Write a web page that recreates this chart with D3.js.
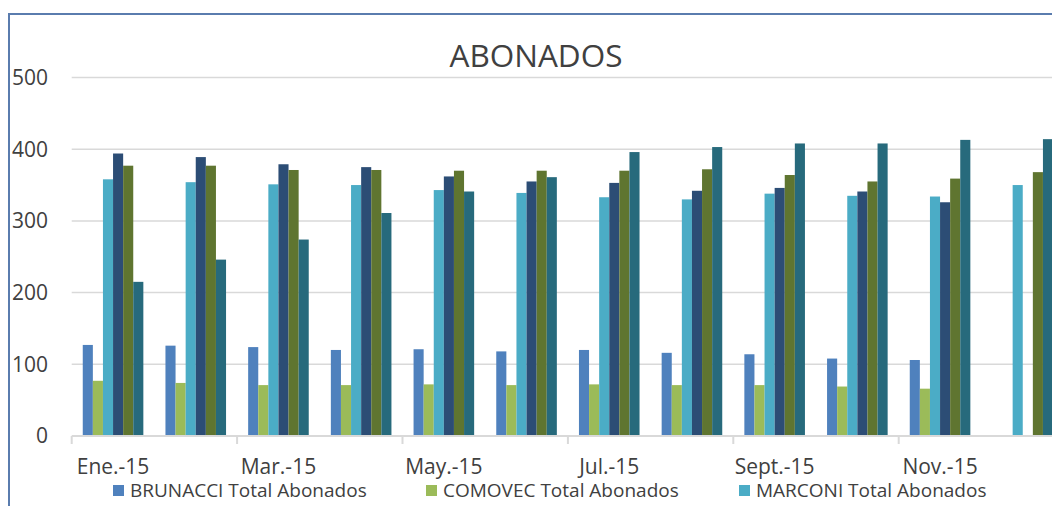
<!DOCTYPE html>
<html>
<head>
<meta charset="utf-8">
<script src="https://cdn.jsdelivr.net/npm/d3@7"></script>
<style>
  html, body { margin: 0; padding: 0; background: #fff; }
  svg { display: block; font-family: "Open Sans", sans-serif; }
</style>
</head>
<body>
<svg id="chart" width="1052" height="506"></svg>
<script>
// months on the category axis
const months = ['Ene.-15', 'Feb.-15', 'Mar.-15', 'Abr.-15', 'May.-15', 'Jun.-15',
                'Jul.-15', 'Ago.-15', 'Sept.-15', 'Oct.-15', 'Nov.-15', 'Dic.-15'];

// series, in drawing order (null = no bar)
const brunacci  = [127, 126, 124, 120, 121, 118, 120, 116, 114, 108, 106, null];
const comovec   = [77, 74, 71, 71, 72, 71, 72, 71, 71, 69, 66, null];
const marconi   = [358, 354, 351, 350, 343, 339, 333, 330, 338, 335, 334, 350];
const brunacci2 = [394, 389, 379, 375, 362, 355, 353, 342, 346, 341, 326, null];
const comovec2  = [377, 377, 371, 371, 370, 370, 370, 372, 364, 355, 359, 368];
const marconi2  = [215, 246, 274, 311, 341, 361, 396, 403, 408, 408, 413, 414];

const seriesNames = ['BRUNACCI Total Abonados', 'COMOVEC Total Abonados', 'MARCONI Total Abonados',
                     'BRUNACCI Total Abonados 2', 'COMOVEC Total Abonados 2', 'MARCONI Total Abonados 2'];
const seriesValues = [brunacci, comovec, marconi, brunacci2, comovec2, marconi2];
const colors = ['#4f81bd', '#9bbb59', '#4bacc6', '#2c4d75', '#5f7530', '#276a7c'];

const yTicks = [0, 100, 200, 300, 400, 500];

const svg = d3.select('#chart');

// outer chart frame (only its top and left edges fall inside the picture)
svg.append('rect')
    .attr('x', 9).attr('y', 14)
    .attr('width', 1200).attr('height', 600)
    .attr('fill', 'none')
    .attr('stroke', '#5a7cae')
    .attr('stroke-width', 2);

const plotLeft = 71.7, catWidth = 82.7;

const x0 = d3.scaleBand()
    .domain(months)
    .range([plotLeft, plotLeft + catWidth * months.length]);

const x1 = d3.scaleBand()
    .domain(d3.range(seriesNames.length))
    .range([0, x0.bandwidth()])
    .paddingOuter(1.095);

const y = d3.scaleLinear()
    .domain([0, 500])
    .range([436, 77.5]);

// gridlines
svg.append('g')
    .selectAll('line')
    .data(yTicks.slice(1))
    .join('line')
    .attr('x1', plotLeft).attr('x2', 1052)
    .attr('y1', d => y(d)).attr('y2', d => y(d))
    .attr('stroke', '#d9d9d9')
    .attr('stroke-width', 1.5);

// y axis labels
svg.append('g')
    .selectAll('text')
    .data(yTicks)
    .join('text')
    .attr('x', 48)
    .attr('y', d => y(d))
    .attr('dy', '0.35em')
    .attr('text-anchor', 'end')
    .attr('fill', '#404040')
    .style('font-size', '21px')
    .text(d => d);

// bars
const groups = svg.append('g')
    .selectAll('g')
    .data(months)
    .join('g')
    .attr('transform', d => `translate(${x0(d)},0)`);

groups.selectAll('rect')
    .data((m, i) => seriesValues.map((vals, s) => ({ s: s, v: vals[i] })).filter(d => d.v != null))
    .join('rect')
    .attr('x', d => x1(d.s))
    .attr('y', d => y(d.v))
    .attr('width', x1.bandwidth())
    .attr('height', d => y(0) - y(d.v))
    .attr('fill', d => colors[d.s]);

// category axis: line, ticks every two months, labels every two months
const xAxis = svg.append('g');
xAxis.append('line')
    .attr('x1', plotLeft).attr('x2', 1052)
    .attr('y1', y(0)).attr('y2', y(0))
    .attr('stroke', '#d9d9d9')
    .attr('stroke-width', 2);

xAxis.selectAll('line.tick')
    .data(months.filter((m, i) => i % 2 === 0))
    .join('line')
    .attr('class', 'tick')
    .attr('x1', d => x0(d)).attr('x2', d => x0(d))
    .attr('y1', y(0)).attr('y2', y(0) + 8)
    .attr('stroke', '#d9d9d9')
    .attr('stroke-width', 2);

xAxis.selectAll('text')
    .data(months.filter((m, i) => i % 2 === 0))
    .join('text')
    .attr('x', d => x0(d) + x0.bandwidth() / 2)
    .attr('y', 474)
    .attr('text-anchor', 'middle')
    .attr('fill', '#404040')
    .style('font-size', '21px')
    .text(d => d);

// title
svg.append('text')
    .attr('x', 536)
    .attr('y', 67)
    .attr('text-anchor', 'middle')
    .attr('fill', '#404040')
    .style('font-size', '31.5px')
    .text('ABONADOS');

// legend: only the first row of entries fits inside the picture
const legend = svg.append('g')
    .selectAll('g')
    .data(seriesNames.slice(0, 3))
    .join('g')
    .attr('transform', (d, i) => `translate(${113 + i * 313},485)`);

legend.append('rect')
    .attr('width', 11).attr('height', 11)
    .attr('fill', (d, i) => colors[i]);

legend.append('text')
    .attr('x', 17)
    .attr('y', 11.5)
    .attr('fill', '#404040')
    .style('font-size', '19px')
    .text(d => d);
</script>
</body>
</html>
